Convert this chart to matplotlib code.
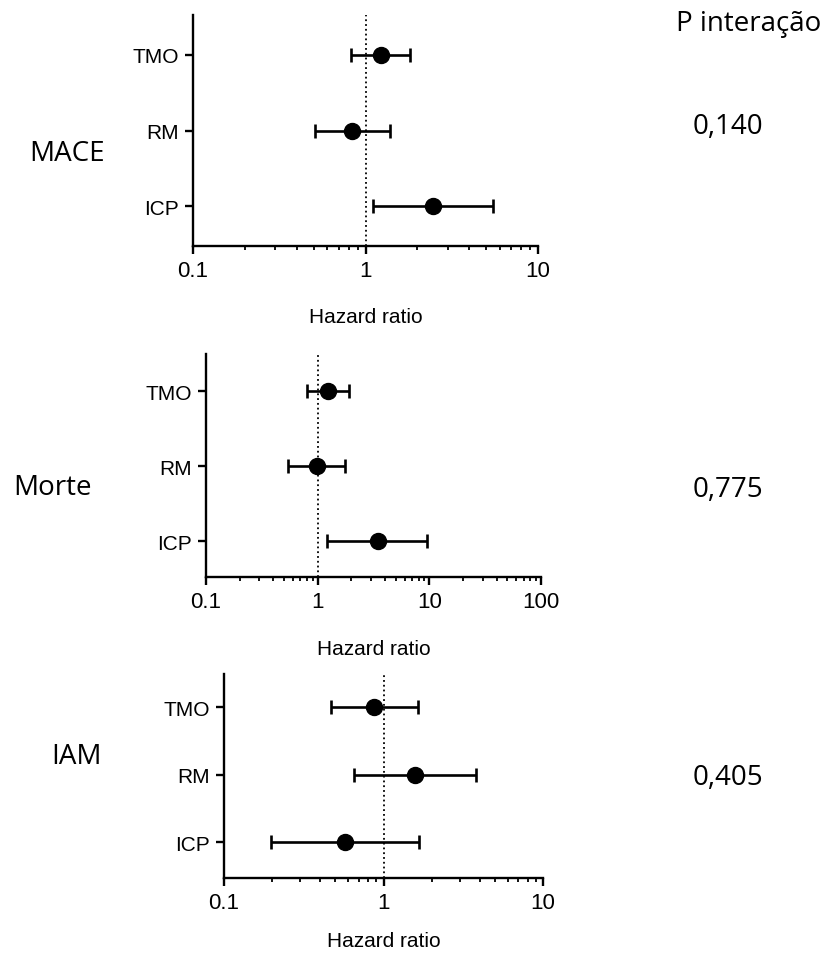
import matplotlib
matplotlib.use('Agg')
import matplotlib.pyplot as plt
from matplotlib.ticker import LogLocator, NullFormatter, FixedLocator, FixedFormatter
import numpy as np

# rows (top to bottom)
rows = ['TMO', 'RM', 'ICP']

# hazard ratio and 95% CI for each outcome
mace_hr = [1.23, 0.84, 2.47]
mace_lo = [0.82, 0.51, 1.10]
mace_hi = [1.81, 1.39, 5.46]

morte_hr = [1.25, 0.98, 3.45]
morte_lo = [0.80, 0.54, 1.21]
morte_hi = [1.91, 1.76, 9.60]

iam_hr = [0.87, 1.58, 0.57]
iam_lo = [0.47, 0.65, 0.196]
iam_hi = [1.65, 3.82, 1.67]

outcomes = ['MACE', 'Morte', 'IAM']
p_values = ['0,140', '0,775', '0,405']

fig = plt.figure(figsize=(8.23, 9.54), dpi=100)
W, H = 823, 954

def px_axes(left, right, top, bottom):
    return fig.add_axes([left / W, 1 - bottom / H, (right - left) / W, (bottom - top) / H])

panels = [
    # (axes box in px, data, xmax, ylim, label top frac)
    ((193, 538, 16, 247), (mace_hr, mace_lo, mace_hi), 10, (0.48, 3.52), -0.264),
    ((206, 541, 355, 578), (morte_hr, morte_lo, morte_hi), 100, (0.52, 3.5), -0.278),
    ((224, 543, 675, 879), (iam_hr, iam_lo, iam_hi), 10, (0.47, 3.49), -0.26),
]

tick_font = dict(family='Liberation Sans', size=15)

for box, (hr, lo, hi), xmax, ylim, lab_y in panels:
    ax = px_axes(*box)
    hr = np.array(hr); lo = np.array(lo); hi = np.array(hi)
    y = np.array([3, 2, 1])
    ax.errorbar(hr, y, xerr=[hr - lo, hi - hr], fmt='o', color='black',
                markersize=11.5, elinewidth=1.9, capsize=5, capthick=1.9, zorder=3)
    ax.axvline(1, color='black', linestyle=':', linewidth=1.3, zorder=1)
    ax.set_xscale('log')
    ax.set_xlim(0.1, xmax)
    ax.set_ylim(*ylim)
    majors = [0.1, 1, 10, 100][:int(np.log10(xmax)) + 2]
    ax.xaxis.set_major_locator(FixedLocator(majors))
    ax.xaxis.set_major_formatter(FixedFormatter(['0.1', '1', '10', '100'][:len(majors)]))
    ax.xaxis.set_minor_locator(LogLocator(base=10, subs=np.arange(2, 10), numticks=20))
    ax.xaxis.set_minor_formatter(NullFormatter())
    ax.set_yticks(y)
    ax.set_yticklabels(rows)
    for s in ['top', 'right']:
        ax.spines[s].set_visible(False)
    for s in ['left', 'bottom']:
        ax.spines[s].set_linewidth(1.7)
    ax.tick_params(axis='both', which='major', length=6, width=1.7, direction='out', pad=4)
    ax.tick_params(axis='x', which='minor', length=3, width=1.3)
    for lab in ax.get_xticklabels():
        lab.set_fontfamily('Liberation Sans')
        lab.set_fontsize(16)
    for lab in ax.get_yticklabels():
        lab.set_fontfamily('Liberation Sans')
        lab.set_fontsize(15)
    ax.set_xlabel('Hazard ratio', **tick_font)
    ax.xaxis.set_label_coords(0.5, lab_y)
    ax.xaxis.label.set_verticalalignment('top')

side_font = dict(family='Open Sans', size=20)
for name, yc, xl in zip(outcomes, [154, 488, 757], [29, 13, 51]):
    fig.text(xl / W, 1 - yc / H, name, ha='left', va='center', **side_font)

fig.text(676 / W, 1 - 24 / H, 'P interação', ha='left', va='center', **side_font)
for p, yc in zip(p_values, [127, 490, 778]):
    fig.text(728 / W, 1 - yc / H, p, ha='center', va='center', **side_font)

fig.savefig('out.png', dpi=100)
